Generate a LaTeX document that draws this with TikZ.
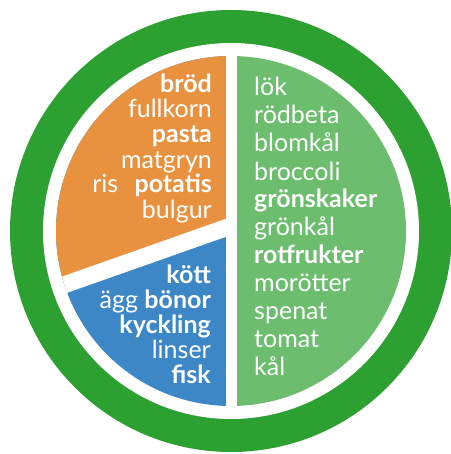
\documentclass[tikz,border=0pt]{standalone}
\usepackage{fontspec}
\setmainfont{Lato}
\definecolor{ringgreen}{RGB}{44,160,48}
\definecolor{veggreen}{RGB}{108,190,110}
\definecolor{grainorange}{RGB}{232,146,64}
\definecolor{protblue}{RGB}{61,135,199}
\tikzset{
  lbl/.style={inner sep=0pt, text=white, font=\fontsize{25}{27}\selectfont},
  lblr/.style={lbl, anchor=base east},
  lbll/.style={lbl, anchor=base west},
  gap/.style={draw=white, line cap=butt}
}
\begin{document}
\begin{tikzpicture}[x=1pt,y=-1pt]
\useasboundingbox (0,0) rectangle (450,454);
% outer ring
\fill[ringgreen] (231,231) circle (221);
\fill[white] (231,231) circle (188);
% plate sectors
\begin{scope}
  \clip (231,231) circle (175);
  \fill[veggreen] (231,0) rectangle (450,454);
  \fill[protblue] (0,0) rectangle (231,454);
  \fill[grainorange] (0,0) -- (231,0) -- (231,226) -- (0,307) -- cycle;
  \draw[gap, line width=11pt] (231.5,0) -- (231.5,454);
  \draw[gap, line width=17pt] (231,226) -- (0,307.5);
\end{scope}
% grains
\node[lblr] (brod) at (212,93) {\textbf{bröd}};
\node[lblr] (fullkorn) at (212,118) {fullkorn};
\node[lblr] (pasta) at (212,143) {\textbf{pasta}};
\node[lblr] (matgryn) at (212,168) {matgryn};
\node[lblr] (potatis) at (212,193) {ris\hspace{10pt} \textbf{potatis}};
\node[lblr] (bulgur) at (212,218) {bulgur};
% protein
\node[lblr] (kott) at (211,283) {\textbf{kött}};
\node[lblr] (bonor) at (211,308) {ägg \textbf{bönor}};
\node[lblr] (kyckling) at (211,333) {\textbf{kyckling}};
\node[lblr] (linser) at (211,358) {linser};
\node[lblr] (fisk) at (211,383) {\textbf{fisk}};
% vegetables
\node[lbll] (lok) at (254,96) {lök};
\node[lbll] (rodbeta) at (254,124) {rödbeta};
\node[lbll] (blomkal) at (254,152) {blomkål};
\node[lbll] (broccoli) at (254,180) {broccoli};
\node[lbll] (gronskaker) at (254,207) {\textbf{grönskaker}};
\node[lbll] (gronkal) at (254,235) {grönkål};
\node[lbll] (rotfrukter) at (254,263) {\textbf{rotfrukter}};
\node[lbll] (morotter) at (254,291) {morötter};
\node[lbll] (spenat) at (254,319) {spenat};
\node[lbll] (tomat) at (254,347) {tomat};
\node[lbll] (kal) at (254,375) {kål};
\end{tikzpicture}
\end{document}
